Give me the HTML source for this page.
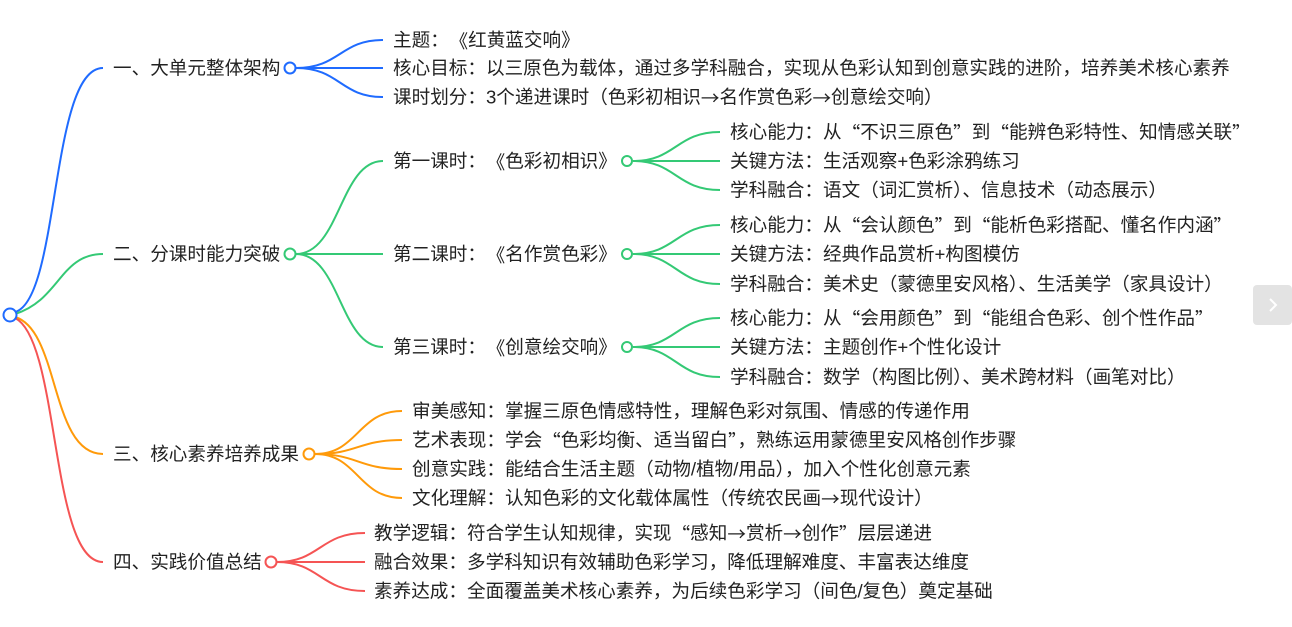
<!DOCTYPE html>
<html><head><meta charset="utf-8"><style>
html,body{margin:0;padding:0;background:#fff;width:1292px;height:627px;overflow:hidden}
svg text{font-family:"Liberation Sans","Noto Sans CJK SC",sans-serif;font-size:18.6px;fill:#222;dominant-baseline:central;font-kerning:none;font-feature-settings:"kern" 0,"chws" 0,"halt" 0,"palt" 0}
svg tspan.c{font-family:"Noto Sans CJK SC",sans-serif}
.b path{fill:none;stroke:#1f6bff;stroke-width:2}
.g path{fill:none;stroke:#34c975;stroke-width:2}
.o path{fill:none;stroke:#ff9a0a;stroke-width:2}
.r path{fill:none;stroke:#f55454;stroke-width:2}
circle{fill:#fff;stroke-width:2}
</style></head><body>
<svg width="1292" height="627" xmlns="http://www.w3.org/2000/svg">
<g class="b"><path d="M15,312 C60,300 50,68 103,68"/>
<path d="M296,68 C340,68 340,40 383,40"/><path d="M296,68 L383,68"/><path d="M296,68 C340,68 340,97 383,97"/></g>
<g class="g"><path d="M15,314 C60,300 60,254 103,254"/>
<path d="M296,254 C340,254 340,161 383,161"/><path d="M296,254 L383,254"/><path d="M296,254 C340,254 340,347 383,347"/>
<path d="M633,161 C676,161 676,132 720,132"/><path d="M633,161 L720,161"/><path d="M633,161 C676,161 676,190 720,190"/>
<path d="M633,254 C676,254 676,225 720,225"/><path d="M633,254 L720,254"/><path d="M633,254 C676,254 676,284 720,284"/>
<path d="M633,347 C676,347 676,318 720,318"/><path d="M633,347 L720,347"/><path d="M633,347 C676,347 676,377 720,377"/></g>
<g class="o"><path d="M15,317 C60,330 50,454 103,454"/>
<path d="M315,454 C358,454 358,411 402,411"/><path d="M315,454 C358,454 358,440 402,440"/><path d="M315,454 C358,454 358,469 402,469"/><path d="M315,454 C358,454 358,498 402,498"/></g>
<g class="r"><path d="M15,318 C60,340 50,562 103,562"/>
<path d="M277,562 C320,562 320,533 365,533"/><path d="M277,562 L365,562"/><path d="M277,562 C320,562 320,591 365,591"/></g>
<circle cx="10" cy="315" r="6.5" stroke="#1f6bff"/>
<circle cx="290" cy="68" r="5.5" stroke="#1f6bff"/>
<circle cx="290" cy="254" r="5.5" stroke="#34c975"/>
<circle cx="627" cy="161" r="5" stroke="#34c975"/>
<circle cx="627" cy="254" r="5" stroke="#34c975"/>
<circle cx="627" cy="347" r="5" stroke="#34c975"/>
<circle cx="309" cy="454" r="5.5" stroke="#ff9a0a"/>
<circle cx="271" cy="562" r="5.5" stroke="#f55454"/>
<text x="113" y="68">一、大单元整体架构</text>
<text x="113" y="254">二、分课时能力突破</text>
<text x="113" y="454">三、核心素养培养成果</text>
<text x="113" y="562">四、实践价值总结</text>
<text x="393" y="40">主题：<tspan class="c" dx="10">《</tspan>红黄蓝交响》</text>
<text x="393" y="68">核心目标：以三原色为载体，通过多学科融合，实现从色彩认知到创意实践的进阶，培养美术核心素养</text>
<text x="393" y="97">课时划分：3个递进课时（色彩初相识<tspan class="c">→</tspan>名作赏色彩<tspan class="c">→</tspan>创意绘交响）</text>
<text x="393" y="161">第一课时：<tspan class="c" dx="10">《</tspan>色彩初相识》</text>
<text x="393" y="254">第二课时：<tspan class="c" dx="10">《</tspan>名作赏色彩》</text>
<text x="393" y="347">第三课时：<tspan class="c" dx="10">《</tspan>创意绘交响》</text>
<text x="730" y="132">核心能力：从<tspan class="c">“</tspan>不识三原色<tspan class="c">”</tspan>到<tspan class="c">“</tspan>能辨色彩特性、知情感关联<tspan class="c">”</tspan></text>
<text x="730" y="161">关键方法：生活观察+色彩涂鸦练习</text>
<text x="730" y="190">学科融合：语文（词汇赏析）、信息技术（动态展示）</text>
<text x="730" y="225">核心能力：从<tspan class="c">“</tspan>会认颜色<tspan class="c">”</tspan>到<tspan class="c">“</tspan>能析色彩搭配、懂名作内涵<tspan class="c">”</tspan></text>
<text x="730" y="254">关键方法：经典作品赏析+构图模仿</text>
<text x="730" y="284">学科融合：美术史（蒙德里安风格）、生活美学（家具设计）</text>
<text x="730" y="318">核心能力：从<tspan class="c">“</tspan>会用颜色<tspan class="c">”</tspan>到<tspan class="c">“</tspan>能组合色彩、创个性作品<tspan class="c">”</tspan></text>
<text x="730" y="347">关键方法：主题创作+个性化设计</text>
<text x="730" y="377">学科融合：数学（构图比例）、美术跨材料（画笔对比）</text>
<text x="412" y="411">审美感知：掌握三原色情感特性，理解色彩对氛围、情感的传递作用</text>
<text x="412" y="440">艺术表现：学会<tspan class="c">“</tspan>色彩均衡、适当留白<tspan class="c">”</tspan>，熟练运用蒙德里安风格创作步骤</text>
<text x="412" y="469">创意实践：能结合生活主题（动物/植物/用品），加入个性化创意元素</text>
<text x="412" y="498">文化理解：认知色彩的文化载体属性（传统农民画<tspan class="c">→</tspan>现代设计）</text>
<text x="374" y="533">教学逻辑：符合学生认知规律，实现<tspan class="c">“</tspan>感知<tspan class="c">→</tspan>赏析<tspan class="c">→</tspan>创作<tspan class="c">”</tspan>层层递进</text>
<text x="374" y="562">融合效果：多学科知识有效辅助色彩学习，降低理解难度、丰富表达维度</text>
<text x="374" y="591">素养达成：全面覆盖美术核心素养，为后续色彩学习（间色/复色）奠定基础</text>
<rect x="1253" y="285" width="39" height="40" rx="4" fill="#e3e3e3"/>
<path d="M1270,299 L1276,305 L1270,311" fill="none" stroke="#fff" stroke-width="2"/>
</svg>
</body></html>
